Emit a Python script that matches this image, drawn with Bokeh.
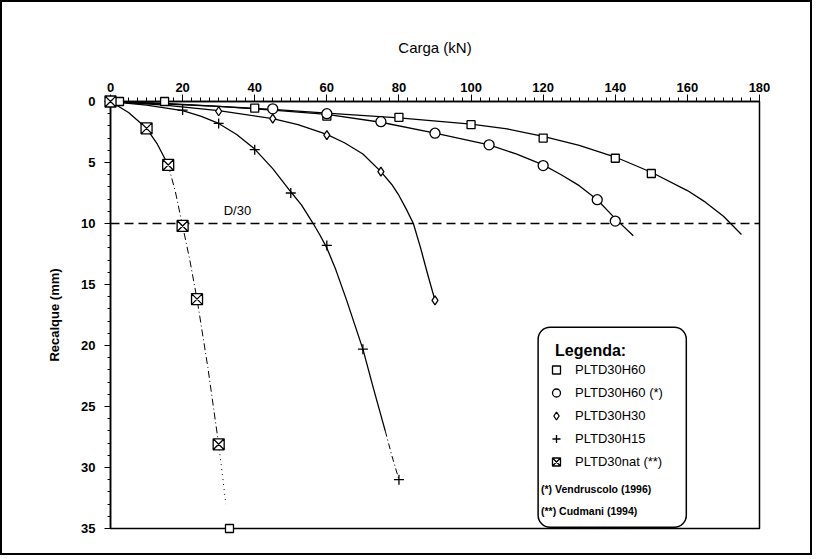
from bokeh.plotting import figure
from bokeh.models import (Range1d, Span, Label, BoxAnnotation, PolyAnnotation, Legend,
                          LegendItem, SingleIntervalTicker)
from bokeh.embed import file_html
from bokeh.resources import INLINE

FONT = "Liberation Sans"

# ---- axes ----
x_max = 180
y_max = 35
x_major_step = 20
y_major_step = 5
x_minor_step = 2.5
y_minor_step = 1.0
d30 = 10.0  # D/30 limit (mm)

# ---- measured points (load kN, settlement mm) ----
h60_load = [2.5, 15, 40, 60, 80, 100, 120, 140, 150]
h60_settle = [0.0, 0.0, 0.55, 1.2, 1.3, 1.9, 3.0, 4.65, 5.9]
h60_extra_load = [33]
h60_extra_settle = [35]

h60v_load = [0, 45, 60, 75, 90, 105, 120, 135, 140]
h60v_settle = [0.0, 0.6, 1.0, 1.65, 2.6, 3.55, 5.25, 8.05, 9.8]

h30_load = [0, 30, 45, 60, 75, 90]
h30_settle = [0.0, 0.8, 1.4, 2.75, 5.75, 16.3]

h15_load = [0, 20, 30, 40, 50, 60, 70, 80]
h15_settle = [0.0, 0.7, 1.8, 3.95, 7.5, 11.8, 20.3, 31.0]

nat_load = [0, 10, 16, 20, 24, 30]
nat_settle = [0.0, 2.2, 5.2, 10.2, 16.2, 28.1]

# ---- fitted curves ----
h60_curve_load = [0, 15, 30, 45, 60, 80, 100, 110, 120, 130, 140, 150, 160, 165, 170, 175]
h60_curve_settle = [0, 0.15, 0.4, 0.65, 0.95, 1.35, 1.85, 2.25, 2.85, 3.6, 4.55, 5.8, 7.3, 8.25, 9.4, 10.9]

h60v_curve_load = [0, 30, 45, 60, 75, 90, 105, 112.5, 120, 125, 130, 135, 140, 145]
h60v_curve_settle = [0, 0.4, 0.7, 1.05, 1.7, 2.6, 3.55, 4.3, 5.2, 6.0, 6.9, 8.05, 9.6, 11.0]

h30_curve_load = [0, 15, 30, 45, 52, 60, 65, 70, 75, 78, 80, 82, 84, 86, 88, 90]
h30_curve_settle = [0, 0.3, 0.75, 1.4, 1.9, 2.7, 3.4, 4.3, 5.75, 6.8, 7.7, 8.8, 10.0, 12.0, 14.2, 16.3]

h15_curve_load = [0, 10, 20, 25, 30, 35, 40, 45, 50, 53, 56, 58, 60, 62.5, 65.5, 70, 73, 76.2]
h15_curve_settle = [0, 0.3, 0.75, 1.2, 1.8, 2.7, 3.9, 5.5, 7.4, 8.5, 9.9, 10.9, 12.0, 13.8, 16.3, 20.3, 23.6, 27.0]
h15_tail_load = [76.2, 78, 80]
h15_tail_settle = [27.0, 29.0, 31.0]

nat_curve_load = [0, 5, 10, 13, 16]
nat_curve_settle = [0, 0.9, 2.2, 3.5, 5.2]
nat_dd_load = [16, 18, 20, 22, 24, 27, 30]
nat_dd_settle = [5.2, 7.4, 10.2, 13.0, 16.2, 21.8, 28.1]
nat_dot_load = [30, 31, 32]
nat_dot_settle = [28.1, 30.5, 33.0]

W, H = 812, 555
BL, BR, BT, BB = 108, 55, 99, 29
p = figure(width=W, height=H,
           x_range=Range1d(0, x_max), y_range=Range1d(y_max, 0),
           x_axis_location="above",
           output_backend="svg", toolbar_location=None,
           min_border_left=BL, min_border_right=BR,
           min_border_top=BT, min_border_bottom=BB)
p.styles = {"border": "2px solid black"}
p.xgrid.visible = False
p.ygrid.visible = False
p.outline_line_color = "black"
p.outline_line_width = 1.5

p.xaxis.ticker = SingleIntervalTicker(interval=x_major_step,
                                      num_minor_ticks=int(x_major_step / x_minor_step))
p.yaxis.ticker = SingleIntervalTicker(interval=y_major_step,
                                      num_minor_ticks=int(y_major_step / y_minor_step))
for ax in (p.xaxis[0], p.yaxis[0]):
    ax.axis_line_color = "black"
    ax.axis_line_width = 1.5
    ax.major_tick_line_color = "black"
    ax.minor_tick_line_color = "black"
    ax.major_tick_in = 0
    ax.minor_tick_in = 0
    ax.major_label_text_font = FONT
    ax.major_label_text_font_size = "13px"
    ax.major_label_text_font_style = "bold"
    ax.major_label_text_color = "black"
    ax.axis_label_text_font = FONT
    ax.axis_label_text_color = "black"

p.xaxis.major_tick_out = 7
p.xaxis.minor_tick_out = 4
p.xaxis.major_label_standoff = 3
p.xaxis.axis_label = "Carga (kN)"
p.xaxis.axis_label_text_font_size = "15px"
p.xaxis.axis_label_text_font_style = "normal"
p.xaxis.axis_label_standoff = 24

p.yaxis.major_tick_out = 6
p.yaxis.minor_tick_out = 3
p.yaxis.major_label_standoff = 9
p.yaxis.axis_label = "Recalque (mm)"
p.yaxis.axis_label_text_font_size = "13px"
p.yaxis.axis_label_text_font_style = "bold"
p.yaxis.axis_label_standoff = 16

# ---- tick marks drawn as one open path per axis (outside the frame) ----
px_per_x = (W - BL - BR) / x_max
px_per_y = (H - BT - BB) / y_max
xt_xs, xt_ys = [], []
for i in range(int(x_max / x_minor_step) + 1):
    t = i * x_minor_step
    if abs(t % x_major_step) < 1e-9:
        L = 8
    elif abs(t % (x_major_step / 2)) < 1e-9:
        L = 6
    else:
        L = 4
    xt_xs += [t, t, t]
    xt_ys += [0, -L / px_per_y, 0]
yt_xs, yt_ys = [], []
for i in range(int(y_max / y_minor_step) + 1):
    t = i * y_minor_step
    L = 7 if abs(t % y_major_step) < 1e-9 else 4
    yt_xs += [0, -L / px_per_x, 0]
    yt_ys += [t, t, t]
for txs, tys in ((xt_xs, xt_ys), (yt_xs, yt_ys)):
    p.add_layout(PolyAnnotation(xs=txs, ys=tys, fill_alpha=0, line_color="black",
                                line_width=1.2, line_join="bevel"))

# D/30 line
p.add_layout(Span(location=d30, dimension="width", line_color="black",
                  line_width=1.5, line_dash="9 5"))
p.add_layout(Label(x=31.4, y=8.9, text="D/30", text_font=FONT, text_font_size="13px",
                   text_baseline="middle", text_color="black"))

lw = 1.3
ov = dict(level="overlay")
p.line(h60_curve_load, h60_curve_settle, line_color="black", line_width=lw, **ov)
p.line(h60v_curve_load, h60v_curve_settle, line_color="black", line_width=lw, **ov)
p.line(h30_curve_load, h30_curve_settle, line_color="black", line_width=lw, **ov)
p.line(h15_curve_load, h15_curve_settle, line_color="black", line_width=lw, **ov)
p.line(h15_tail_load, h15_tail_settle, line_color="black", line_width=1, line_dash="6 3 1 3", **ov)
p.line(nat_curve_load, nat_curve_settle, line_color="black", line_width=lw, **ov)
p.line(nat_dd_load, nat_dd_settle, line_color="black", line_width=1, line_dash="7 3 1 3", **ov)
p.line(nat_dot_load, nat_dot_settle, line_color="black", line_width=1, line_dash="1 4", **ov)

mk = dict(line_color="black", fill_color="white", line_width=1.3, level="overlay")
r_h60 = p.scatter(h60_load, h60_settle, marker="square", size=8, **mk)
p.scatter(h60_extra_load, h60_extra_settle, marker="square", size=8, **mk)
r_h60v = p.scatter(h60v_load, h60v_settle, marker="circle", size=10, **mk)
r_h30 = p.scatter(h30_load, h30_settle, marker="diamond", size=9, **mk)
r_h15 = p.scatter(h15_load, h15_settle, marker="cross", size=10, **mk)
r_nat = p.scatter(nat_load, nat_settle, marker="square_x", size=11, **mk)

# legend box
p.add_layout(BoxAnnotation(left=118.6, right=159.7, top=18.5, bottom=34.9,
                           border_radius=12, fill_alpha=0, line_color="black",
                           line_width=1.5, line_alpha=1))

legend = Legend(items=[
    LegendItem(label="PLTD30H60", renderers=[r_h60]),
    LegendItem(label="PLTD30H60 (*)", renderers=[r_h60v]),
    LegendItem(label="PLTD30H30", renderers=[r_h30]),
    LegendItem(label="PLTD30H15", renderers=[r_h15]),
    LegendItem(label="PLTD30nat (**)", renderers=[r_nat]),
], location=(436, 56.5), padding=0, margin=0, spacing=2,
    label_height=21, glyph_height=21, glyph_width=20, label_standoff=9,
    border_line_alpha=0, background_fill_alpha=0,
    label_text_font=FONT, label_text_font_size="13px", label_text_color="black")
p.add_layout(legend)

p.add_layout(Label(x=123.3, y=20.4, text="Legenda:", text_font=FONT, text_font_size="16px",
                   text_font_style="bold", text_baseline="middle", text_color="black"))
p.add_layout(Label(x=119.4, y=31.8, text="(*) Vendruscolo (1996)", text_font=FONT,
                   text_font_size="10.5px", text_font_style="bold", text_baseline="middle",
                   text_color="black"))
p.add_layout(Label(x=119.4, y=33.6, text="(**) Cudmani (1994)", text_font=FONT,
                   text_font_size="10.5px", text_font_style="bold", text_baseline="middle",
                   text_color="black"))

open("out.html", "w").write(file_html(p, INLINE))
